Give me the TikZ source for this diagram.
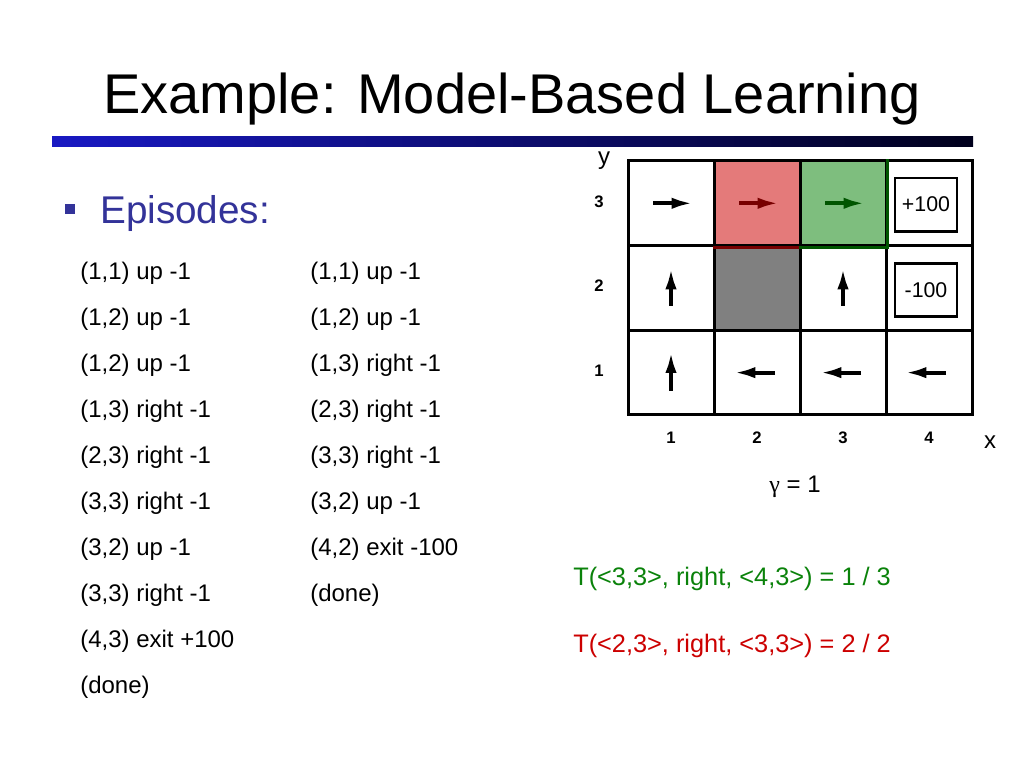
\documentclass[tikz,border=0pt]{standalone}
\usepackage{fontspec}
\setmainfont{Liberation Sans}
\newfontfamily\grec{Liberation Serif}
\usetikzlibrary{arrows.meta}
\definecolor{titrebleu}{RGB}{25,25,195}
\definecolor{titrenoir}{RGB}{0,0,28}
\definecolor{puce}{RGB}{51,51,153}
\definecolor{caserouge}{RGB}{228,122,122}
\definecolor{caseverte}{RGB}{126,190,126}
\definecolor{flecherouge}{RGB}{120,0,0}
\definecolor{flecheverte}{RGB}{0,85,0}
\definecolor{texteverte}{RGB}{10,130,10}
\definecolor{texterouge}{RGB}{204,0,0}
\newcommand{\fs}[1]{\fontsize{#1}{#1}\selectfont}

\begin{document}
\begin{tikzpicture}[x=0.75pt, y=-0.75pt,
	case/.style={draw, line width=2.25pt, minimum width=64.5pt, minimum height=63.5pt, inner sep=0pt},
	fleche/.style={line width=3pt, -{Latex[length=16pt,width=8.5pt]}},
	recomp/.style={draw, line width=2pt, minimum width=46.5pt, minimum height=40pt, inner sep=0pt, font=\fs{16}},
	ep/.style={anchor=base west, inner sep=0pt, font=\fs{18}},
	num/.style={font=\bfseries\fs{12.5}},
	]
				\useasboundingbox (0,0) rectangle (1024,768);
				% titre
				\node[anchor=base, inner sep=0pt, font=\fs{42}] (titre) at (512,113) {Example: Model-Based Learning};
				\shade[left color=titrebleu, right color=titrenoir] (52,136) rectangle (973,146);
				% episodes
				\fill[puce] (65,204) rectangle (75,214);
				\node[anchor=base west, inner sep=0pt, font=\fs{29}, text=puce] (episodes) at (100,223) {Episodes:};
				\foreach \t [count=\k] in {{(1,1) up -1},{(1,2) up -1},{(1,2) up -1},{(1,3) right -1},{(2,3) right -1},{(3,3) right -1},{(3,2) up -1},{(3,3) right -1},{(4,3) exit +100},{(done)}}
					\node[ep] (epa\k) at (80,{279+46*(\k-1)}) {\t};
				\foreach \t [count=\k] in {{(1,1) up -1},{(1,2) up -1},{(1,3) right -1},{(2,3) right -1},{(3,3) right -1},{(3,2) up -1},{(4,2) exit -100},{(done)}}
					\node[ep] (epb\k) at (310,{279+46*(\k-1)}) {\t};
				% cases colorees
				\fill[caserouge] (714,161) rectangle (800,246);
				\fill[caseverte] (800,161) rectangle (886,246);
				\fill[gray] (714,246) rectangle (800,330);
				% grille
				\foreach \i in {1,...,4}
					\foreach \j in {1,2,3}
						\node[case] (c\i\j) at ({585+86*\i},{457.3-84.67*\j}) {};
				\draw[flecherouge, line width=2.25pt] (c23.south west) -- (c23.south east);
				\draw[flecheverte, line width=2.25pt] (c33.north east) -- (c33.south east) -- (c33.south west);
				% fleches
				\draw[fleche] (c13) ++(-18,0) -- ++(40,0);
				\draw[fleche, flecherouge] (c23) ++(-18,0) -- ++(40,0);
				\draw[fleche, flecheverte] (c33) ++(-18,0) -- ++(40,0);
				\draw[fleche] (c12) ++(0,18) -- ++(0,-38);
				\draw[fleche] (c32) ++(0,18) -- ++(0,-38);
				\draw[fleche] (c11) ++(0,18) -- ++(0,-39);
				\draw[fleche] (c21) ++(18,0) -- ++(-41,0);
				\draw[fleche] (c31) ++(18,0) -- ++(-41,0);
				\draw[fleche] (c41) ++(17,0) -- ++(-41,0);
				% recompenses
				\node[recomp] (plus) at (926,204.5) {+100};
				\node[recomp] (moins) at (926,290) {-100};
				% axes
				\node[anchor=base, inner sep=0pt, font=\fs{18}] (axey) at (604,164) {y};
				\node[anchor=base, inner sep=0pt, font=\fs{18}] (axex) at (990,448) {x};
				\foreach \j in {1,2,3}
					\node[num] (ly\j) at (599,{455.5-84.67*\j}) {\j};
				\foreach \i in {1,...,4}
					\node[num] (lx\i) at ({585+86*\i},438) {\i};
				\node[font=\fs{18}] (gamma) at (795,487) {{\grec γ} = 1};
				% transitions
				\node[anchor=west, inner sep=0pt, font=\fs{19}, text=texteverte] (tverte) at (573,579) {T(<3,3>, right, <4,3>) = 1 / 3};
				\node[anchor=west, inner sep=0pt, font=\fs{19}, text=texterouge] (trouge) at (573,646) {T(<2,3>, right, <3,3>) = 2 / 2};
\end{tikzpicture}
\end{document}
